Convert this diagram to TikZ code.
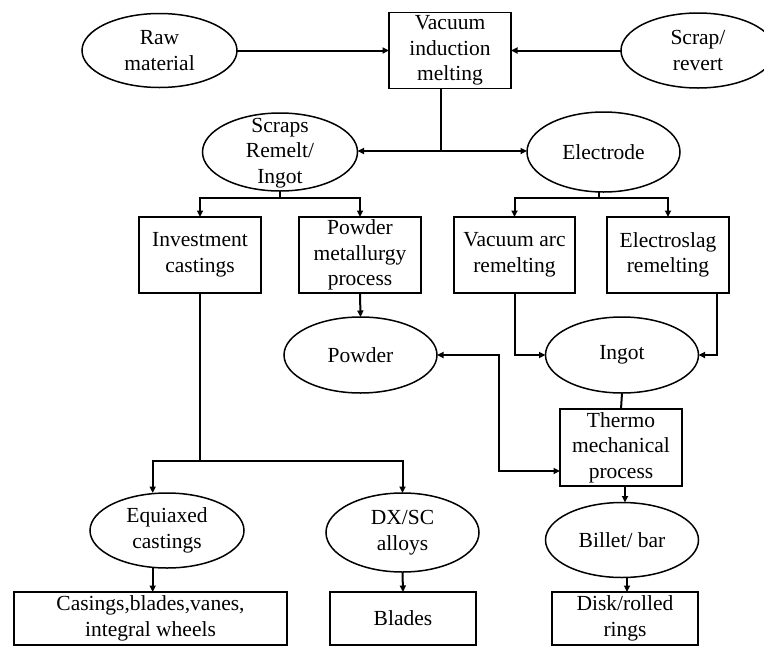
\documentclass[tikz,border=0pt]{standalone}
\usepackage{fontspec}
\setmainfont{Liberation Serif}
\usetikzlibrary{shapes.geometric,arrows.meta}

\begin{document}
\begin{tikzpicture}[x=1pt,y=-1pt,
  every node/.style={font=\fontsize{21.5}{25.5}\selectfont, align=center, inner sep=0pt, outer sep=0pt},
  procbox/.style 2 args={draw, rectangle, line width=1.8pt, minimum width=#1, minimum height=#2},
  oval/.style 2 args={draw, ellipse, line width=1.5pt, minimum width=#1, minimum height=#2},
  plainline/.style={line width=2pt},
  link/.style={plainline, -{Triangle[length=6.5pt,width=6pt]}},
  twoway/.style={plainline, {Triangle[length=6.5pt,width=6pt]}-{Triangle[length=6.5pt,width=6pt]}}]

% canvas
\fill[white] (0,0) rectangle (764,646);
\useasboundingbox (0,0) rectangle (764,646);

% top row
\node[oval={155pt}{74pt}] (raw) at (159.5,50.5) {Raw\\material};
\node[procbox={122pt}{76pt}] (vim) at (450,50.5) {Vacuum\\induction\\melting};
\node[oval={154pt}{75pt}] (scrap) at (698,50.5) {Scrap/\\revert};

% second row
\node[oval={155pt}{78pt}] (scr) at (280,152) {};
\node (scrtext) at (280,153) {Scraps\\Remelt/\\Ingot};
\node[oval={153pt}{80pt}] (elec) at (603.5,152) {Electrode};

% process boxes
\node[procbox={121.5pt}{76pt}] (inv) at (200,255) {Investment\\castings};
\node[procbox={121.5pt}{76pt}] (pm) at (360,255) {Powder\\metallurgy\\process};
\node[procbox={121pt}{76pt}] (var) at (514.5,255) {Vacuum arc\\remelting};
\node[procbox={122pt}{76pt}] (esr) at (668,255) {Electroslag\\remelting};

% intermediate products
\node[oval={153pt}{76pt}] (powder) at (360.5,355) {Powder};
\node[oval={153pt}{76pt}] (ingot) at (622,355) {Ingot};
\node[procbox={122pt}{77pt}] (thermo) at (621,447.5) {Thermo\\mechanical\\process};

% lower row
\node[oval={154pt}{75pt}] (equi) at (167,530.5) {Equiaxed\\castings};
\node[oval={153pt}{79pt}] (dxsc) at (402.5,532.5) {DX/SC\\alloys};
\node[oval={153pt}{75pt}] (billet) at (622,540) {Billet/ bar};

% final products
\node[procbox={273pt}{53pt}] (casings) at (150.5,618.5) {Casings,blades,vanes,\\integral wheels};
\node[procbox={146.5pt}{53pt}] (blades) at (403,618.5) {Blades};
\node[procbox={146.5pt}{53pt}] (disk) at (625,618.5) {Disk/rolled\\rings};

% feeds into melting
\draw[link] (raw.east) -- (vim.west);
\draw[link] (scrap.west) -- (vim.east);

% split after melting
\coordinate (j1) at (441,151);
\draw[plainline] (j1 |- vim.south) -- (j1);
\draw[twoway] (j1 -| scr.east) -- (j1 -| elec.west);

% scraps branch
\coordinate (b1) at (280,198);
\draw[plainline] (scr.south) -- (b1);
\draw[link] (b1) -| (inv.north);
\draw[link] (b1) -| (pm.north);

% electrode branch
\coordinate (b2) at (599,198);
\draw[plainline] (b2 |- elec.south) -- (b2);
\draw[link] (b2) -| (var.north);
\draw[link] (b2) -| (esr.north);

% powder route
\draw[link] (pm.south) -- (powder.north);

% remelting into ingot
\draw[link] (var.south) |- (ingot.west);
\draw[link] ([xshift=49pt]esr.south) |- (ingot.east);

% powder / thermo mechanical exchange
\coordinate (k) at (498.5,471);
\draw[twoway] (powder.east) -| (k) -- (k -| thermo.west);

% wrought route
\draw[plainline] (ingot.south) -- (thermo.north);
\draw[link] ([xshift=4pt]thermo.south) -- ([xshift=4pt]thermo.south |- billet.north);
\draw[link] ([xshift=5pt]billet.south) -- ([xshift=5pt]billet.south |- disk.north);

% casting route
\coordinate (c1) at (200,461);
\coordinate (t1) at (152.7,461);
\coordinate (t2) at (402.5,461);
\draw[plainline] (inv.south) -- (c1);
\draw[link] (c1) -- (t1) -- (t1 |- equi.north);
\draw[link] (c1) -- (t2) -- (dxsc.north);
\draw[link] (t1 |- equi.south) -- (t1 |- casings.north);
\draw[link] (dxsc.south) -- (blades.north);

\end{tikzpicture}
\end{document}
